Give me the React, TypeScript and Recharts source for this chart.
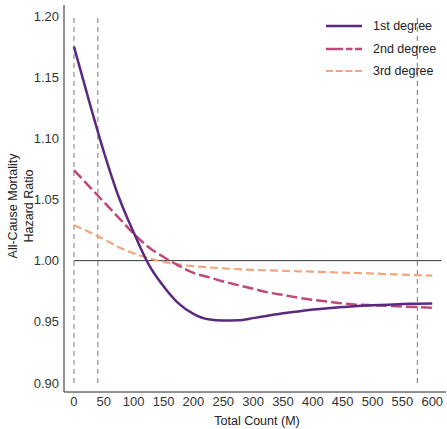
import React from 'react';
import { LineChart, Line, XAxis, YAxis, ReferenceLine, Legend } from 'recharts';

const xValues = [0, 25, 50, 75, 100, 125, 150, 175, 200, 225, 250, 275, 300, 325, 350, 375, 400, 425, 450, 475, 500, 525, 550, 575, 600];
const firstDegree = [1.175, 1.131, 1.089, 1.052, 1.023, 0.997, 0.979, 0.965, 0.9565, 0.952, 0.951, 0.9512, 0.953, 0.955, 0.957, 0.9585, 0.96, 0.961, 0.962, 0.963, 0.9635, 0.964, 0.9645, 0.9648, 0.965];
const secondDegree = [1.074, 1.061, 1.048, 1.035, 1.022, 1.011, 1.003, 0.996, 0.99, 0.9865, 0.983, 0.98, 0.977, 0.974, 0.972, 0.9697, 0.968, 0.9665, 0.965, 0.964, 0.9635, 0.963, 0.9625, 0.962, 0.9615];
const thirdDegree = [1.029, 1.0235, 1.0175, 1.011, 1.006, 1.002, 0.999, 0.997, 0.9955, 0.9945, 0.9937, 0.993, 0.9925, 0.9921, 0.9917, 0.9913, 0.991, 0.9906, 0.9902, 0.9899, 0.9895, 0.989, 0.9885, 0.9881, 0.9878];

const xTicks = [0, 50, 100, 150, 200, 250, 300, 350, 400, 450, 500, 550, 600];
const yTicks = [0.9, 0.95, 1.0, 1.05, 1.1, 1.15, 1.2];
const cutoffs = [0, 40, 575];
const seriesNames = ['1st degree', '2nd degree', '3rd degree'];
const seriesColors = ['#5B2A80', '#BE4A7C', '#F4A57C'];

const data = xValues.map((x, i) => ({ x, first: firstDegree[i], second: secondDegree[i], third: thirdDegree[i] }));

const FONT = '"Liberation Sans", Arial, sans-serif';

const legendDashes = ['', '17 3 6.5 2.5 7', '7 2.7'];

const renderLegend = () => (
  <div style={{ fontFamily: FONT, fontSize: 12.5, color: '#222' }}>
    {seriesNames.map((name, i) => (
      <div key={name} style={{ position: 'absolute', left: 0, top: i * 22.7 - 8, height: 16, width: 120 }}>
        <svg width={40} height={16} style={{ position: 'absolute', left: 0, top: 0 }}>
          <line x1={0} x2={36} y1={8} y2={8} stroke={seriesColors[i]} strokeWidth={i === 2 ? 2 : 2.5} strokeDasharray={legendDashes[i] || undefined} />
        </svg>
        <span style={{ position: 'absolute', left: 47, top: 0, lineHeight: '16px', whiteSpace: 'nowrap' }}>{name}</span>
      </div>
    ))}
  </div>
);

const YTitle = () => (
  <g fontFamily={FONT} fontSize={12.5} fill="#222">
    <text x={13} y={206} transform="rotate(-90 13 206)" textAnchor="middle" dominantBaseline="central">All-Cause Mortality</text>
    <text x={28.5} y={206} transform="rotate(-90 28.5 206)" textAnchor="middle" dominantBaseline="central">Hazard Ratio</text>
  </g>
);

export default function App() {
  return (
    <div style={{ position: 'absolute', left: 0, top: 0, width: 447, height: 429, background: '#fff' }}>
      <LineChart width={447} height={429} data={data} margin={{ top: 5, right: 1, bottom: 0, left: 0 }}>
        <XAxis
          dataKey="x"
          type="number"
          domain={[-16.7, 623]}
          ticks={xTicks}
          interval={0}
          tickLine={false}
          tickSize={3}
          height={37}
          axisLine={{ stroke: '#222', strokeWidth: 1 }}
          tick={{ fontSize: 13, fill: '#333', fontFamily: FONT }}
          label={{ value: 'Total Count (M)', position: 'insideBottom', offset: 4.5, dx: 2, fontSize: 12.5, fill: '#222', fontFamily: FONT }}
        />
        <YAxis
          type="number"
          domain={[0.8926, 1.209]}
          ticks={yTicks}
          interval={0}
          width={64}
          tickLine={false}
          tickSize={3}
          axisLine={{ stroke: '#222', strokeWidth: 1 }}
          tick={{ fontSize: 13, fill: '#333', fontFamily: FONT }}
          tickFormatter={(v: number) => v.toFixed(2)}
          label={() => <YTitle />}
        />
        <ReferenceLine segment={[{ x: 0, y: 1 }, { x: 615, y: 1 }]} stroke="#333" strokeWidth={1} ifOverflow="visible" />
        {cutoffs.map((c) => (
          <ReferenceLine key={c} segment={[{ x: c, y: 0.9 }, { x: c, y: 1.2 }]} stroke="#777" strokeWidth={1} strokeDasharray="5 4" ifOverflow="visible" />
        ))}
        <Line type="monotone" dataKey="third" name={seriesNames[2]} stroke={seriesColors[2]} strokeWidth={2.2} strokeDasharray="8 4" dot={false} isAnimationActive={false} />
        <Line type="monotone" dataKey="second" name={seriesNames[1]} stroke={seriesColors[1]} strokeWidth={2.5} strokeDasharray="11 4" dot={false} isAnimationActive={false} />
        <Line type="monotone" dataKey="first" name={seriesNames[0]} stroke={seriesColors[0]} strokeWidth={2.5} dot={false} isAnimationActive={false} />
        <Legend
          layout="vertical"
          align="center"
          verticalAlign="middle"
          content={renderLegend}
          wrapperStyle={{ position: 'absolute', left: 326, top: 26, width: 120, height: 60 }}
        />
      </LineChart>
    </div>
  );
}
